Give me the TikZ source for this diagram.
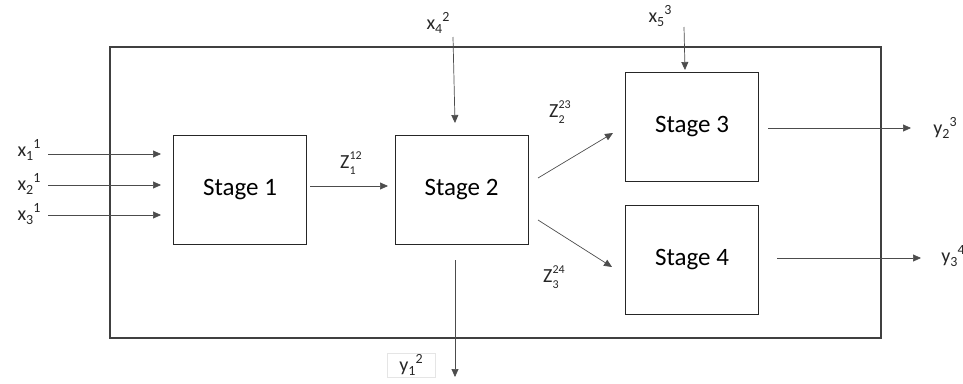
\documentclass[tikz,border=0pt]{standalone}
\usepackage{fontspec}
\setmainfont{Carlito}
\usetikzlibrary{arrows.meta}
\newcommand{\sbx}[1]{\raisebox{-0.35ex}{\fontsize{14}{14}\selectfont #1}}
\newcommand{\spx}[1]{\raisebox{0.85ex}{\fontsize{14}{14}\selectfont #1}}
\newcommand{\stk}[2]{\rlap{\raisebox{0.95ex}{\fontsize{12}{12}\selectfont #1}}\raisebox{-0.65ex}{\fontsize{12}{12}\selectfont #2}\phantom{\fontsize{12}{12}\selectfont #2}}
\begin{document}
\begin{tikzpicture}[x=1pt,y=-1pt,
  stagebox/.style={draw=black!85,line width=1pt,minimum width=133pt,minimum height=109pt,font=\fontsize{25}{25}\selectfont,inner sep=0pt},
  lbl/.style={font=\fontsize{20}{20}\selectfont,inner sep=0pt,text=black!85},
  arr/.style={draw=black!70,line width=0.7pt,-{Triangle[length=8pt,width=7pt]}}]
\useasboundingbox (0,0) rectangle (963,383);
\node[draw=black!75,line width=1.3pt,minimum width=771pt,minimum height=291pt,inner sep=0pt] (outer) at (495.5,192.5) {};
\node[stagebox] (s1) at (240,190) {Stage 1};
\node[stagebox] (s2) at (461.5,189.5) {Stage 2};
\node[stagebox] (s3) at (692,126.5) {Stage 3};
\node[stagebox] (s4) at (692,259.5) {Stage 4};
% inputs
\node[lbl] (x1) at (29,150) {x\sbx{1}\spx{1}};
\node[lbl] (x2) at (29,184) {x\sbx{2}\spx{1}};
\node[lbl] (x3) at (29,214) {x\sbx{3}\spx{1}};
\coordinate (a1) at (48,154); \coordinate (b1) at (161,154);
\coordinate (a2) at (48,185); \coordinate (b2) at (161,185);
\coordinate (a3) at (48,215); \coordinate (b3) at (161,215);
\draw[arr] (a1) -- (b1);
\draw[arr] (a2) -- (b2);
\draw[arr] (a3) -- (b3);
\node[lbl] (x4) at (438,23) {x\sbx{4}\spx{2}};
\coordinate (a4) at (453,37); \coordinate (b4) at (455,123);
\draw[arr] (a4) -- (b4);
\node[lbl] (x5) at (660,16) {x\sbx{5}\spx{3}};
\coordinate (a5) at (684,27); \coordinate (b5) at (685,70);
\draw[arr] (a5) -- (b5);
% internal flows
\coordinate (z1a) at (310,186); \coordinate (z1b) at (388,186);
\draw[arr] (z1a) -- (z1b);
\node[lbl] (z1) at (351,163) {Z\stk{12}{1}};
\coordinate (z2a) at (538,178); \coordinate (z2b) at (613,133);
\draw[arr] (z2a) -- (z2b);
\node[lbl] (z2) at (560,112) {Z\stk{23}{2}};
\coordinate (z3a) at (538,220); \coordinate (z3b) at (612,267);
\draw[arr] (z3a) -- (z3b);
\node[lbl] (z3) at (554,277) {Z\stk{24}{3}};
% outputs
\coordinate (y1a) at (455,260); \coordinate (y1b) at (455,377);
\draw[arr] (y1a) -- (y1b);
\node[lbl,draw=black!10,line width=0.5pt,minimum width=48pt,minimum height=24pt] (y1) at (411,365) {y\sbx{1}\spx{2}};
\coordinate (y2a) at (768,128); \coordinate (y2b) at (911,128);
\draw[arr] (y2a) -- (y2b);
\node[lbl] (y2) at (945,128) {y\sbx{2}\spx{3}};
\coordinate (y3a) at (777,258); \coordinate (y3b) at (921,258);
\draw[arr] (y3a) -- (y3b);
\node[lbl] (y3) at (953,256) {y\sbx{3}\spx{4}};
\end{tikzpicture}
\end{document}
